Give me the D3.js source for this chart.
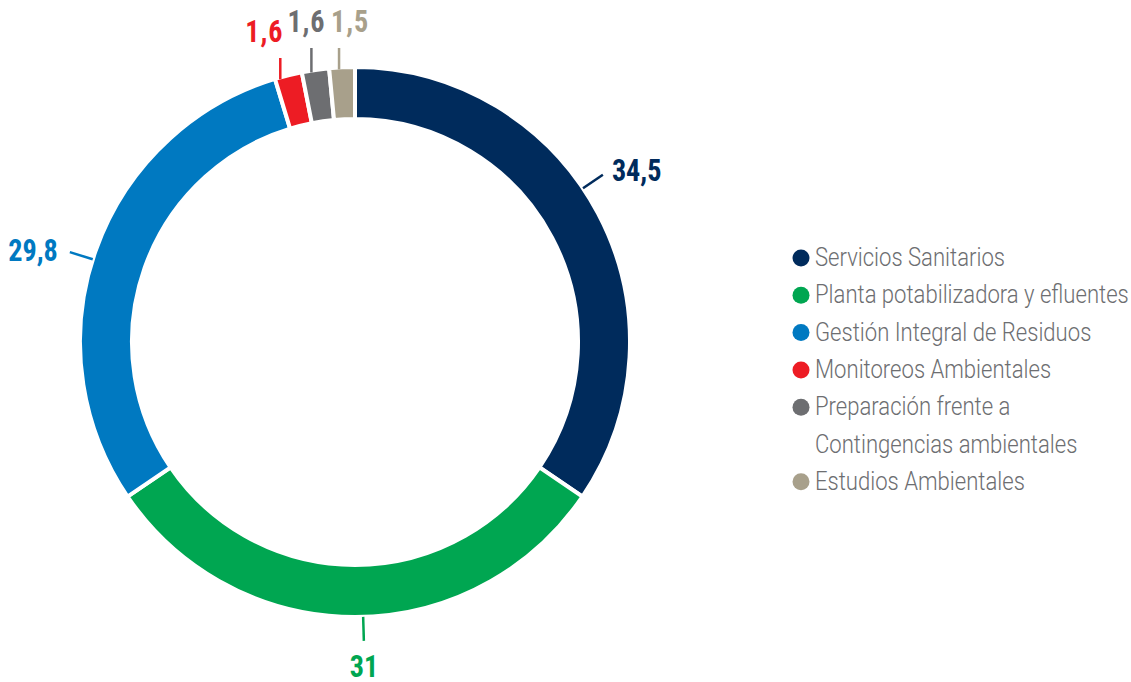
<!DOCTYPE html>
<html><head><meta charset="utf-8">
<script src="https://cdn.jsdelivr.net/npm/d3@7"></script>
<style>body{margin:0;background:#fff}svg{display:block}</style>
</head><body>
<svg id="c" width="1131" height="682"></svg>
<script>
const categories = ["Servicios Sanitarios","Planta potabilizadora y efluentes","Gestión Integral de Residuos","Monitoreos Ambientales","Preparación frente a\nContingencias ambientales","Estudios Ambientales"];
const values = [34.5, 31, 29.8, 1.6, 1.6, 1.5];
const valueLabels = ["34,5","31","29,8","1,6","1,6","1,5"];
const colors = ["#002b5c","#00a651","#0079c1","#ed1c24","#6d6e71","#a8a08b"];

const svg = d3.select("#c");
const cx = 355, cy = 342, R = 275, r0 = 223;
const g = svg.append("g").attr("transform",`translate(${cx},${cy})`);
const pie = d3.pie().sort(null).value(d=>d)(values);
const arc = d3.arc().innerRadius(r0).outerRadius(R);
g.selectAll("path").data(pie).join("path")
  .attr("d",arc).attr("fill",(d,i)=>colors[i])
  .attr("stroke","#fff").attr("stroke-width",4).attr("stroke-linejoin","miter");

const numFont = "'Roboto Condensed','Liberation Sans Narrow',Roboto,sans-serif";
function numText(x,y,txt,col,anchor,ls){
  svg.append("g").attr("transform",`translate(${x},${y}) scale(0.88,1)`)
    .append("text").attr("text-anchor",anchor).attr("font-family",numFont)
    .attr("font-weight",700).attr("font-size",32).attr("letter-spacing",ls||0)
    .attr("fill",col).text(txt);
}
const deg = Math.PI/180;
const angleOverride = {0: 56*deg, 1: 178.3*deg, 2: 287.5*deg};
pie.forEach((d,i)=>{
  const col = colors[i];
  if (i < 3) {
    const a = angleOverride[i];
    const s = Math.sin(a), c = -Math.cos(a);
    const x1 = cx + R*s, y1 = cy + R*c, x2 = cx + (R+24)*s, y2 = cy + (R+24)*c;
    svg.append("line").attr("x1",x1).attr("y1",y1).attr("x2",x2).attr("y2",y2)
      .attr("stroke",col).attr("stroke-width",2.5);
    if (s > 0.5) numText(x2+9, y2+6, valueLabels[i], col, "start");
    else if (s < -0.5) numText(x2-12, y2+9, valueLabels[i], col, "end");
    else numText(x2, y2+36, valueLabels[i], col, "middle");
  } else {
    const a = (d.startAngle+d.endAngle)/2;
    const k = i-3;
    const lx = cx + R*Math.sin(a) - [8,4,3][k];
    const ly1 = cy - Math.sqrt(R*R-(lx-cx)*(lx-cx));
    const base = [42,32,32][k];
    svg.append("line").attr("x1",lx).attr("y1",ly1+2).attr("x2",lx).attr("y2",base+16)
      .attr("stroke",col).attr("stroke-width",2.5);
    numText(lx+[-16,-5,11][k], base, valueLabels[i], col, "middle", 1);
  }
});

// legend
const lg = svg.append("g");
let row = 0;
categories.forEach((name,i)=>{
  const lines = name.split("\n");
  const y0 = 266 + row*37.3;
  lg.append("circle").attr("cx",801).attr("cy",y0-8).attr("r",8.5).attr("fill",colors[i]);
  lines.forEach((ln,j)=>{
    lg.append("g").attr("transform",`translate(815,${y0+j*37.3}) scale(0.85,1)`)
      .append("text").attr("font-family","Roboto,sans-serif").attr("font-weight",300)
      .attr("font-size",26).attr("fill","#6d6e71").text(ln);
  });
  row += lines.length;
});
</script>
</body></html>
